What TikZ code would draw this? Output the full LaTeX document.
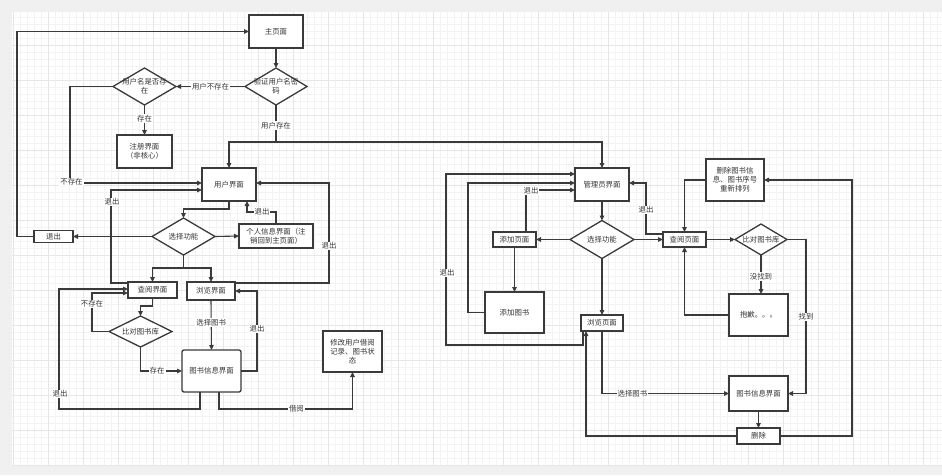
\documentclass[tikz,border=0pt]{standalone}
\usepackage{fontspec}
\newfontfamily\cjk{Noto Sans CJK SC}
\usetikzlibrary{arrows.meta,shapes.geometric}
\definecolor{ink}{HTML}{3A3A3A}
\definecolor{txtc}{HTML}{333333}
\definecolor{outer}{HTML}{F0F0F0}
\definecolor{gminor}{HTML}{F3F3F3}
\definecolor{gmajor}{HTML}{E6E6E6}
\begin{document}
\begin{tikzpicture}[x=1pt,y=-1pt,
  txt/.style={font=\cjk\fontsize{7.4}{9}\selectfont, text=txtc, align=center},
  box/.style={draw=ink, line width=1.3pt, fill=white, inner sep=0pt, outer sep=0pt, txt},
  dia/.style={draw=ink, line width=1.3pt, fill=white, diamond, inner sep=0pt, outer sep=0pt},
  conn/.style={draw=ink, line width=1.1pt, -{Triangle[length=5pt,width=4.5pt]}},
  plain/.style={draw=ink, line width=1.1pt},
  lbl/.style={txt, fill=white, inner sep=1pt}]
% background
\useasboundingbox (0,0) rectangle (942,475);
\fill[outer] (0,0) rectangle (942,475);
\fill[white] (12,12) rectangle (942,465);
\begin{scope}
\clip (12,12) rectangle (942,465);
\foreach \i in {0,...,134} \draw[gminor, line width=0.5pt] ({6+7*\i},12) -- ({6+7*\i},465);
\foreach \j in {0,...,65} \draw[gminor, line width=0.5pt] (12,{10+7*\j}) -- (942,{10+7*\j});
\foreach \i in {0,...,26} \draw[gmajor, line width=0.7pt] ({13+35*\i},12) -- ({13+35*\i},465);
\foreach \j in {0,...,13} \draw[gmajor, line width=0.7pt] (12,{10+35*\j}) -- (942,{10+35*\j});
\end{scope}

% ---------- left part ----------
\node[box, minimum width=54, minimum height=33] (main) at (276,31.5) {主页面};
\node[dia, minimum width=62, minimum height=37, label={[txt]center:验证用户名密\\码}] (verify) at (276,86.5) {};
\node[dia, minimum width=63, minimum height=37, label={[txt]center:用户名是否存\\在}] (uname) at (144.5,86.5) {};
\node[box, minimum width=55, minimum height=33] (reg) at (144.5,151.5) {注册界面\\（非核心）};
\node[box, minimum width=54, minimum height=33] (user) at (229,184.5) {用户界面};
\node[box, minimum width=39, minimum height=12] (exitL) at (53.5,236.5) {退出};
\node[dia, minimum width=63, minimum height=37, label={[txt]center:选择功能}] (sel) at (183.5,236.5) {};
\node[box, minimum width=74, minimum height=24] (info) at (276,236) {个人信息界面（注\\销回到主页面）};
\node[box, minimum width=49, minimum height=16] (query) at (152.5,290) {查阅界面};
\node[box, minimum width=48, minimum height=18] (browse) at (211,291) {浏览界面};
\node[dia, minimum width=63, minimum height=31, label={[txt]center:比对图书库}] (cmp) at (140.5,331.5) {};
\node[box, minimum width=59, minimum height=42, rounded corners=2pt] (binfo) at (211.5,371) {图书信息界面};
\node[box, minimum width=59, minimum height=41] (modify) at (352.5,351.5) {修改用户借阅\\记录、图书状\\态};

\draw[conn] (main) -- (verify);
\draw[conn] (verify.west) -- node[lbl]{用户不存在} (uname.east);
\draw[conn] (uname.south) -- node[lbl, pos=0.45]{存在} (reg.north);
\coordinate (c1) at (70,86.5);
\coordinate (c2) at (70,183);
\draw[plain] (uname.west) -- (c1) -- (c2);
\draw[conn] (c2) -- ([yshift=1.5pt]user.west);
\node[lbl] at (71.5,182) {不存在};
\coordinate (c3) at (276,142);
\draw[plain] (verify.south) -- node[lbl, pos=0.55]{用户存在} (c3);
\draw[conn] (c3) -| (user.north);
\draw[conn] (exitL.west) -- (17,236.5) |- (main.west);
\draw[conn] (sel.west) -- (exitL.east);
\draw[conn] (sel.east) -- (info.west);
\coordinate (c4) at (276,212);
\coordinate (c5) at (247,212);
\draw[conn] (info.north) -- (c4) -- (c5) -- ([xshift=18pt]user.south);
\node[lbl] at (262,212) {退出};
\draw[conn] (user.south) |- (183.5,209) -- (sel.north);
\coordinate (c6) at (183.5,268);
\draw[plain] (sel.south) -- (c6);
\draw[conn] (c6) -| (query.north);
\draw[conn] (c6) -| (browse.north);
\draw[conn] ([yshift=7pt]query.west) -| (111,200) |- ([yshift=-5.5pt]user.west);
\node[lbl] at (112,202) {退出};
\draw[conn] ([yshift=8pt]browse.east) -| (329,230) |- ([yshift=1.5pt]user.east);
\node[lbl] at (329,246) {退出};
\draw[conn] (query.south) |- (140.5,306) -- (cmp.north);
\draw[conn] (cmp.west) -| (92,300) |- ([yshift=-3pt]query.west);
\node[lbl] at (92,304) {不存在};
\draw[conn] (cmp.south) |- node[lbl, pos=0.7]{存在} (binfo.west);
\draw[conn] (browse.south) -- node[lbl, pos=0.45]{选择图书} (binfo.north);
\draw[conn] (binfo.east) -| (257,330) |- (browse.east);
\node[lbl] at (257,329) {退出};
\draw[conn] ([xshift=-11.5pt]binfo.south) |- (59,409) |- ([yshift=1pt]query.west);
\node[lbl] at (60,394) {退出};
\coordinate (c7) at (219,409);
\coordinate (c8) at (352.5,409);
\draw[conn] ([xshift=7.5pt]binfo.south) -- (c7) -- node[lbl, pos=0.58]{借阅} (c8) -- (modify.south);

% ---------- right part ----------
\node[box, minimum width=54, minimum height=33] (admin) at (602,184.5) {管理员界面};
\node[dia, minimum width=64, minimum height=38, label={[txt]center:选择功能}] (sel2) at (602,239.5) {};
\node[box, minimum width=43, minimum height=15] (addp) at (514.5,239.5) {添加页面};
\node[box, minimum width=59, minimum height=41] (addb) at (514.5,312.5) {添加图书};
\node[box, minimum width=43, minimum height=15] (qpage) at (684.5,239.5) {查阅页面};
\node[box, minimum width=58, minimum height=42] (delinfo) at (735,180) {删除图书信\\息、图书序号\\重新排列};
\node[dia, minimum width=52, minimum height=31, label={[txt]center:比对图书库}] (cmp2) at (761,239.5) {};
\node[box, minimum width=59, minimum height=42] (sorry) at (758.5,315) {抱歉。。。};
\node[box, minimum width=42, minimum height=16] (bpage) at (602,323) {浏览页面};
\node[box, minimum width=59, minimum height=35] (binfo2) at (758.5,393.5) {图书信息界面};
\node[box, minimum width=43, minimum height=16] (del) at (758.5,436) {删除};

\draw[conn] (c3) -| (admin.north);
\draw[conn] (admin.south) -- (sel2.north);
\draw[conn] (sel2.west) -- (addp.east);
\draw[conn] (sel2.east) -- (qpage.west);
\draw[conn] (sel2.south) -- (bpage.north);
\draw[conn] (addp.south) -- (addb.north);
\draw[conn] ([xshift=11.5pt]addp.north) |- ([yshift=-5.5pt]admin.west);
\node[lbl] at (531,191) {退出};
\draw[conn] (addb.west) -| (468,250) |- ([yshift=1.5pt]admin.west);
\draw[conn] ([xshift=-19pt]bpage.south) |- (446,345) |- ([yshift=10.5pt]admin.west);
\node[lbl] at (447,273) {退出};
\draw[conn] ([yshift=5.5pt]qpage.west) -| (646,210) |- ([yshift=1.5pt]admin.east);
\node[lbl] at (646,210) {退出};
\draw[conn] (delinfo.west) -| (qpage.north);
\draw[conn] (qpage.east) -- (cmp2.west);
\draw[conn] (cmp2.south) -- node[lbl, pos=0.55]{没找到} (cmp2.south |- sorry.north);
\draw[conn] (sorry.west) -| (qpage.south);
\draw[conn] (cmp2.east) -| (806,320) |- (binfo2.east);
\node[lbl] at (806,317) {找到};
\draw[conn] (bpage.south) |- node[lbl, pos=0.62]{选择图书} (binfo2.west);
\draw[conn] (binfo2.south) -- (del.north);
\draw[conn] (del.west) -| ([xshift=-16pt]bpage.south);
\draw[conn] (del.east) -| (852,300) |- (delinfo.east);
\end{tikzpicture}
\end{document}
